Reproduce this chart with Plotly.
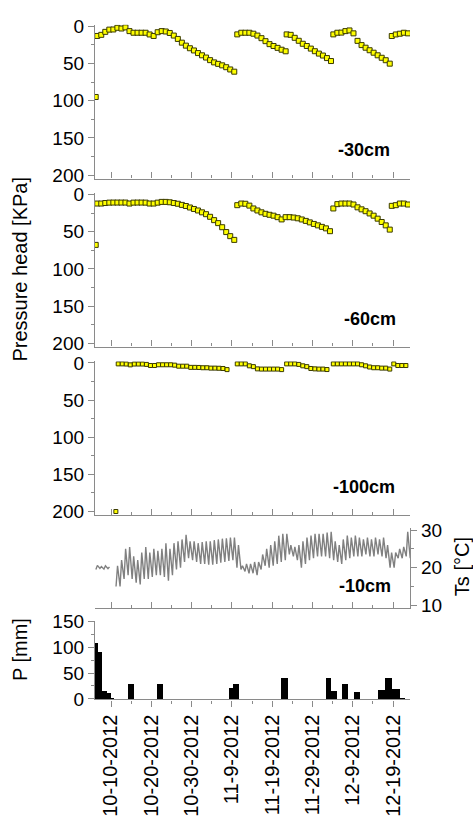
import pandas as pd
import plotly.graph_objects as go

# ---------------- soil water pressure head (kPa), daily readings ----------------
# each segment: first reading time + consecutive daily values
P30_INIT = ("2012-10-06 05:00", 95)
P30_SEG_START = ["2012-10-06 14:00", "2012-11-10 08:00", "2012-11-22 14:00",
                 "2012-12-04 04:00", "2012-12-18 16:00"]
P30_SEG_VALS = [
    [13, 11.5, 7.5, 4.5, 4.3, 2, 3, 1.5, 6.5, 8.7, 8.7, 8.7, 8.7, 11, 13, 8, 6.5,
     7, 9, 12.5, 17, 22, 26, 29.5, 32.5, 36, 39, 42, 45.5, 48.5, 50.5, 52.5, 55,
     58, 61],
    [10.9, 8.7, 8.7, 8.7, 10, 12.5, 16, 20, 24, 26.5, 29, 31.5, 33.6],
    [10.9, 11.5, 15.5, 19.5, 23.5, 26.5, 30, 33.5, 36.7, 39.3, 42.7, 46.7],
    [10.9, 8.7, 8.5, 6.5, 5.6, 9.5, 19.6, 25.3, 28.8, 32.2, 35.5, 39, 42.3, 45.6,
     50.2],
    [13.1, 11, 10, 8.7, 9.5],
]

P60_INIT = ("2012-10-06 05:00", 67.7)
P60_SEG_START = ["2012-10-06 14:00", "2012-11-10 08:00", "2012-12-04 04:00",
                 "2012-12-18 16:00"]
P60_SEG_VALS = [
    [12.2, 12.2, 11.5, 11, 10.9, 10.9, 10.9, 10.9, 12.2, 11, 10.9, 10.9, 11,
     12.2, 12.2, 11, 10, 10, 10.5, 11.5, 12.5, 14, 15.5, 17.5, 19.5, 21.5, 24,
     26.5, 30, 34.5, 38.5, 44, 50.5, 56, 61],
    [14.4, 12.2, 12.5, 15, 18.8, 21.5, 24, 26, 27.3, 28.5, 30.5, 33.5, 30.5,
     30.5, 31, 32, 33.6, 35.5, 37.5, 39.6, 41.5, 43.5, 45.5, 49.3],
    [18.8, 13, 12.2, 12.2, 12.2, 13.5, 17.3, 20, 22.5, 25.5, 28.5, 32.5, 37,
     41.5, 47.2],
    [15.3, 14.4, 12.2, 12.2, 13.5],
]

P100_INIT = ("2012-10-11 05:00", 200)
P100_SEG_START = ["2012-10-11 19:00", "2012-11-10 08:00", "2012-11-22 14:00",
                  "2012-12-04 04:00", "2012-12-18 04:00"]
P100_SEG_VALS = [
    [1.3, 1.3, 1.5, 2.6, 1.5, 1.5, 1.5, 2, 3.5, 3.5, 2.5, 2.5, 2.5, 2.5, 3, 4.4,
     4.4, 4.4, 6, 6, 6.1, 6.5, 6.5, 7, 7, 7.2, 7.5, 9],
    [1.3, 1.3, 1.3, 3.9, 5, 8, 8.3, 8.3, 8.3, 8.3, 8.3, 9],
    [1.3, 1.3, 1.3, 2, 3.9, 5, 7.5, 8, 8.3, 8.3, 8.9],
    [1.3, 1.3, 1.3, 1.3, 1.3, 1.3, 1.3, 2.5, 3.9, 5.5, 6.5, 6.5, 7, 7],
    [8.3, 1.3, 3.5, 3.5, 3.5],
]

# ---------------- soil temperature at -10 cm (°C), daily min / max ----------------
TS_START_A = "2012-10-06"
TS_MIN_A = [19.5, 19.8, 19.6, 19.7]
TS_MAX_A = [20.6, 20.3, 20.5, 20.2]

TS_START_B = "2012-10-11"
TS_MIN_B = [15, 15, 17, 18, 17, 16, 15.5, 17, 17, 17.5, 18, 18, 17.5, 16.5, 18,
            19.5, 20, 21.5, 22.5, 22, 21.5,
            21, 21, 20.8, 20.8, 21, 21.3, 21.5, 21.8, 22, 20, 19.5, 19, 18.5,
            18.5, 18, 19.5, 20.5, 20, 20.5, 21, 21.5, 22, 23.5, 23, 22, 20, 21,
            22, 22.5, 23,
            23, 23, 22.5, 22, 21.5, 21, 22, 22.5, 23, 23, 23, 23.5, 23, 23, 23.5,
            23, 22.5, 20, 20, 22.5, 22.5, 23, 22.5]
TS_MAX_B = [20.5, 22, 25, 25.5, 23, 22, 24, 25.5, 24, 25, 24.5, 25, 26.5, 25,
            26.5, 27, 27.5, 28.7, 27, 27, 26.5,
            26.8, 27, 27, 27.3, 27.5, 27.7, 27.8, 28, 28, 26, 20.5, 21, 21, 21.5,
            21.5, 23.5, 25, 26, 27, 28.5, 29, 29, 26, 25.5, 26, 27, 28, 28.5, 29,
            29,
            29, 29.3, 29.5, 27, 26, 27.5, 28.5, 28, 28.5, 28, 27.5, 28, 27.5, 28,
            27.5, 28, 26, 24, 24, 25, 25.5, 29.5, 29.5]

# ---------------- precipitation (mm) per accumulation period ----------------
RAIN_START = ["2012-10-06 00:00", "2012-10-06 20:00", "2012-10-07 17:00",
              "2012-10-08 22:00", "2012-10-09 22:00", "2012-10-14 07:00",
              "2012-10-21 08:00", "2012-11-08 08:00", "2012-11-09 08:00",
              "2012-11-21 03:00", "2012-12-02 07:00", "2012-12-03 14:00",
              "2012-12-06 06:00", "2012-12-09 07:00", "2012-12-15 08:00",
              "2012-12-17 00:00", "2012-12-18 19:00", "2012-12-20 17:00"]
RAIN_END = ["2012-10-06 20:00", "2012-10-07 17:00", "2012-10-08 22:00",
            "2012-10-09 22:00", "2012-10-10 18:00", "2012-10-15 19:00",
            "2012-10-22 20:00", "2012-11-09 08:00", "2012-11-10 20:00",
            "2012-11-23 00:00", "2012-12-03 14:00", "2012-12-05 00:00",
            "2012-12-07 22:00", "2012-12-10 19:00", "2012-12-17 00:00",
            "2012-12-18 19:00", "2012-12-20 17:00", "2012-12-21 23:00"]
RAIN_MM = [109, 91, 16.5, 12, 1.5, 30, 30, 21, 29, 40, 41, 16.5, 29, 12.7, 17.7,
           40, 19.5, 2]

# ---------------- axis ticks ----------------
TICK_DATES = ["2012-10-10", "2012-10-20", "2012-10-30", "2012-11-09",
              "2012-11-19", "2012-11-29", "2012-12-09", "2012-12-19"]
TICK_LABELS = ["10-10-2012", "10-20-2012", "10-30-2012", "11-9-2012",
               "11-19-2012", "11-29-2012", "12-9-2012", "12-19-2012"]
HEAD_TICKS = [0, 50, 100, 150, 200]
TS_TICKS = [10, 20, 30]
RAIN_TICKS = [0, 50, 100, 150]

FONT = "Liberation Sans, Arial, sans-serif"
AXIS_GREY = "#8a8a8a"
DAY_MS = 86400000


def head_series(init, starts, vals):
    xs = [pd.Timestamp(init[0])]
    ys = [init[1]]
    for s, v in zip(starts, vals):
        xs.extend(pd.date_range(s, periods=len(v), freq="D"))
        ys.extend(v)
    return xs, ys


def zigzag(start, tmin, tmax):
    xs, ys = [], []
    for i, day in enumerate(pd.date_range(start, periods=len(tmin), freq="D")):
        xs += [day + pd.Timedelta(hours=6), day + pd.Timedelta(hours=15)]
        ys += [tmin[i], tmax[i]]
    return xs, ys


fig = go.Figure()

marker = dict(symbol="square", size=5, color="#ffff00",
              line=dict(color="#3a3a00", width=1))

for k, (init, starts, vals) in enumerate([
        (P30_INIT, P30_SEG_START, P30_SEG_VALS),
        (P60_INIT, P60_SEG_START, P60_SEG_VALS),
        (P100_INIT, P100_SEG_START, P100_SEG_VALS)]):
    xs, ys = head_series(init, starts, vals)
    sfx = "" if k == 0 else str(k + 1)
    m = dict(marker)
    if k == 2:
        m["size"] = 4
    fig.add_trace(go.Scatter(x=xs, y=ys, mode="markers", marker=m,
                             xaxis="x" + sfx, yaxis="y" + sfx,
                             showlegend=False))

# soil temperature zig-zag (two pieces with a gap in the record)
xa, ya = zigzag(TS_START_A, TS_MIN_A, TS_MAX_A)
xb, yb = zigzag(TS_START_B, TS_MIN_B, TS_MAX_B)
fig.add_trace(go.Scatter(x=xa + [None] + xb, y=ya + [None] + yb, mode="lines",
                         line=dict(color="#808080", width=1.4),
                         connectgaps=False, xaxis="x4", yaxis="y4",
                         showlegend=False))

# precipitation bars
rs = pd.to_datetime(RAIN_START)
re_ = pd.to_datetime(RAIN_END)
centers = rs + (re_ - rs) / 2
widths = [(e - s).total_seconds() * 1000 for s, e in zip(rs, re_)]
fig.add_trace(go.Bar(x=centers, y=RAIN_MM, width=widths,
                     marker=dict(color="black", line=dict(width=0)),
                     xaxis="x5", yaxis="y5", showlegend=False))

XR = ["2012-10-06 00:45", "2012-12-23 04:30"]
XDOM = [95 / 473, 410 / 473]


def xaxis(anchor, labels=False):
    d = dict(domain=XDOM, range=XR, type="date", anchor=anchor,
             showline=True, linecolor=AXIS_GREY, linewidth=1.3,
             showgrid=False, zeroline=False,
             tickmode="array", tickvals=TICK_DATES,
             ticks="outside" if labels else "inside", ticklen=6,
             tickcolor=AXIS_GREY, tickwidth=1.2,
             minor=dict(ticks="outside" if labels else "inside", ticklen=3,
                        dtick=5 * DAY_MS, tick0="2012-10-05",
                        tickcolor=AXIS_GREY, tickwidth=1.2),
             showticklabels=labels, fixedrange=True)
    if labels:
        d.update(ticktext=TICK_LABELS, tickangle=-90,
                 tickfont=dict(family=FONT, size=20, color="black"))
    return d


def yaxis(anchor, dom, rng, tickvals, minor_dt, side="left"):
    return dict(domain=dom, range=rng, anchor=anchor, side=side,
                showline=True, linecolor=AXIS_GREY, linewidth=1.3,
                showgrid=False, zeroline=False,
                tickmode="array", tickvals=tickvals,
                ticks="outside", ticklen=6, tickcolor=AXIS_GREY, tickwidth=1.2,
                minor=dict(ticks="outside", ticklen=3, dtick=minor_dt,
                           tickcolor=AXIS_GREY, tickwidth=1.2),
                tickfont=dict(family=FONT, size=19, color="black"),
                fixedrange=True)


def pdom(top_px, bottom_px):
    return [1 - bottom_px / 826, 1 - top_px / 826]


fig.update_layout(
    width=473, height=826,
    margin=dict(l=0, r=0, t=0, b=0),
    paper_bgcolor="white", plot_bgcolor="rgba(0,0,0,0)",
    font=dict(family=FONT, color="black"),
    bargap=0,
    xaxis=xaxis("y"), xaxis2=xaxis("y2"), xaxis3=xaxis("y3"),
    xaxis4=xaxis("y4"), xaxis5=xaxis("y5", labels=True),
    yaxis=yaxis("x", pdom(15, 172.7), [204.5, -2.2], HEAD_TICKS, 25),
    yaxis2=yaxis("x2", pdom(187.5, 345), [204.3, -2], HEAD_TICKS, 25),
    yaxis3=yaxis("x3", pdom(360, 518), [205.3, -2.2], HEAD_TICKS, 25),
    yaxis4=yaxis("x4", pdom(531, 612.7), [9.3, 30.5], TS_TICKS, 5,
                 side="right"),
    yaxis5=yaxis("x5", pdom(626, 706.5), [-1, 151], RAIN_TICKS, 25),
)

labels = [
    ("-30cm", 364, 143), ("-60cm", 370, 317),
    ("-100cm", 364, 489), ("-10cm", 365, 590),
]
for txt, px, py in labels:
    fig.add_annotation(text="<b>%s</b>" % txt, x=px / 473, y=1 - py / 826,
                       xref="paper", yref="paper", showarrow=False,
                       xanchor="center", yanchor="middle",
                       font=dict(family=FONT, size=18, color="black"))

titles = [
    ("Pressure head [KPa]", 20, 266), ("P [mm]", 20, 656),
    ("Ts [°C]", 462, 571),
]
for txt, px, py in titles:
    fig.add_annotation(text=txt, x=px / 473, y=1 - py / 826, xref="paper",
                       yref="paper", showarrow=False, textangle=-90,
                       xanchor="center", yanchor="middle",
                       font=dict(family=FONT, size=20, color="black"))

fig.write_html("out.html")
